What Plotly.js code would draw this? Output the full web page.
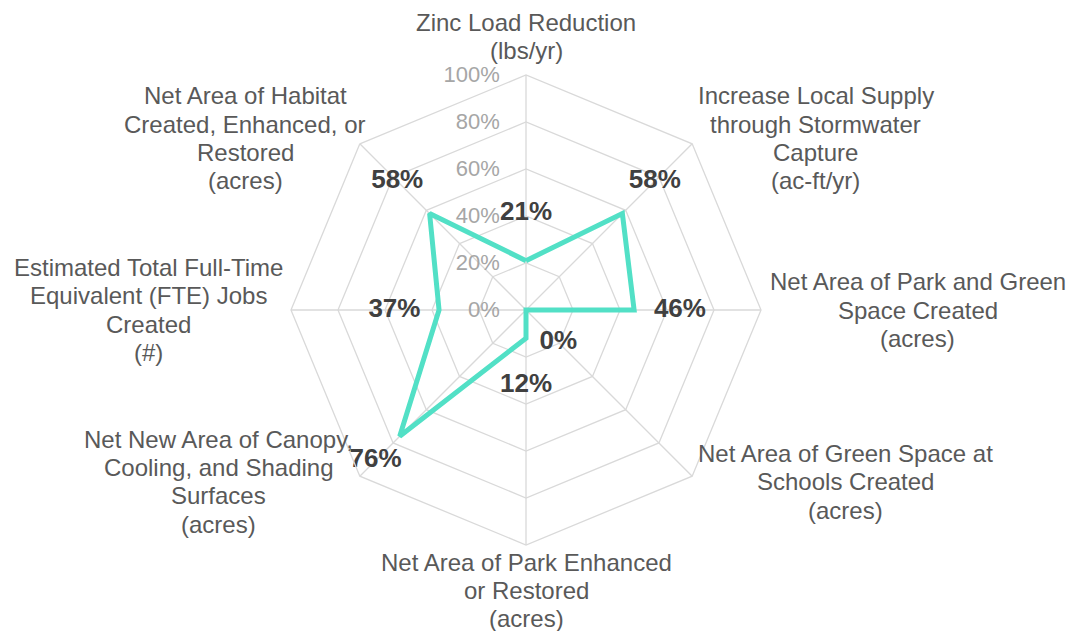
<!DOCTYPE html>
<html>
<head>
<meta charset="utf-8">
<script src="https://cdn.plot.ly/plotly-3.0.1.min.js"></script>
<style>html,body{margin:0;padding:0;background:#fff;}#chart{width:1069px;height:631px;}</style>
</head>
<body>
<div id="chart"></div>
<script>
// ---- data ----
const categories = [
  "Zinc Load Reduction<br>(lbs/yr)",
  "Increase Local Supply<br>through Stormwater<br>Capture<br>(ac-ft/yr)",
  "Net Area of Park and Green<br>Space Created<br>(acres)",
  "Net Area of Green Space at<br>Schools Created<br>(acres)",
  "Net Area of Park Enhanced<br>or Restored<br>(acres)",
  "Net New Area of Canopy,<br>Cooling, and Shading<br>Surfaces<br>(acres)",
  "Estimated Total Full-Time<br>Equivalent (FTE) Jobs<br>Created<br>(#)",
  "Net Area of Habitat<br>Created, Enhanced, or<br>Restored<br>(acres)"
];
const values = [21, 58, 46, 0, 12, 76, 37, 58];
const radialTicks = [0, 20, 40, 60, 80, 100];

// ---- layout geometry / styling ----
const W = 1069, H = 631, CX = 526, CY = 310, R = 235;
const labelOffsets = [20, 19.5, 19.5, 19.5, 20, 14.5, 19, 19.5]; // value-label offset outward (radial units)
const catNudgeX = [0, 0, 0, 0, 0, 0, 0, 12];                       // small horizontal nudges of category labels (px)
const FONT = "Liberation Sans, Arial, sans-serif";
const CAT_SIZE = 24, LINE_H = 28.3;

const closedTheta = categories.concat([categories[0]]);
const closedR = values.concat([values[0]]);

const lineTrace = {
  type: "scatterpolar",
  mode: "lines",
  r: closedR,
  theta: closedTheta,
  line: {color: "#52E0C6", width: 5},
  hoverinfo: "skip",
  showlegend: false
};

const labelTrace = {
  type: "scatterpolar",
  mode: "text",
  r: values.map((v, i) => v + labelOffsets[i]),
  theta: categories,
  text: values.map(v => v + "%"),
  textposition: "middle center",
  textfont: {family: FONT, size: 26, color: "#404040", weight: "bold"},
  cliponaxis: false,
  hoverinfo: "skip",
  showlegend: false
};

// measure text widths to centre each multi-line label block
const ctx = document.createElement("canvas").getContext("2d");
ctx.font = CAT_SIZE + "px 'Liberation Sans', Arial, sans-serif";

const annotations = [];
categories.forEach((c, i) => {
  const lines = c.split("<br>");
  const a = i * 2 * Math.PI / categories.length;
  const s = Math.sin(a), co = Math.cos(a);
  const vx = CX + R * s, vy = CY - R * co;
  const maxW = Math.max(...lines.map(l => ctx.measureText(l).width));
  const blockH = lines.length * LINE_H;
  let bx, by; // block centre
  if (s > 0.3) bx = vx + 8 * s + maxW / 2;
  else if (s < -0.3) bx = vx + 8 * s - maxW / 2;
  else bx = vx;
  bx += catNudgeX[i];
  if (co > 0.9) by = vy - 10 - blockH / 2;
  else if (co < -0.9) by = vy + 3 + blockH / 2;
  else by = vy - 8 * co;
  lines.forEach((l, k) => {
    const ly = by - blockH / 2 + LINE_H * (k + 0.5);
    annotations.push({
      xref: "paper", yref: "paper",
      x: bx / W, y: 1 - ly / H,
      xanchor: "center", yanchor: "middle",
      text: l, showarrow: false,
      font: {family: FONT, size: CAT_SIZE, color: "#595959"}
    });
  });
});

const layout = {
  width: W, height: H,
  margin: {l: 0, r: 0, t: 0, b: 0},
  paper_bgcolor: "#ffffff",
  showlegend: false,
  polar: {
    domain: {x: [(CX - R) / W, (CX + R) / W], y: [1 - (CY + R) / H, 1 - (CY - R) / H]},
    bgcolor: "#ffffff",
    gridshape: "linear",
    angularaxis: {
      direction: "clockwise",
      rotation: 90,
      showticklabels: false,
      ticks: "",
      gridcolor: "#d9d9d9",
      gridwidth: 1.3,
      linecolor: "#d9d9d9",
      linewidth: 1.3,
      showline: true
    },
    radialaxis: {
      range: [0, 100],
      tickvals: radialTicks,
      ticktext: radialTicks.map(t => t + "%"),
      angle: 90,
      side: "counterclockwise",
      tickangle: 90,
      ticks: "outside",
      ticklen: 18,
      tickcolor: "rgba(0,0,0,0)",
      showline: false,
      gridcolor: "#d9d9d9",
      gridwidth: 1.3,
      tickfont: {family: FONT, size: 22, color: "#a6a6a6"},
      layer: "below traces"
    }
  },
  annotations: annotations
};

Plotly.newPlot("chart", [lineTrace, labelTrace], layout, {displayModeBar: false, staticPlot: true});
</script>
</body>
</html>
